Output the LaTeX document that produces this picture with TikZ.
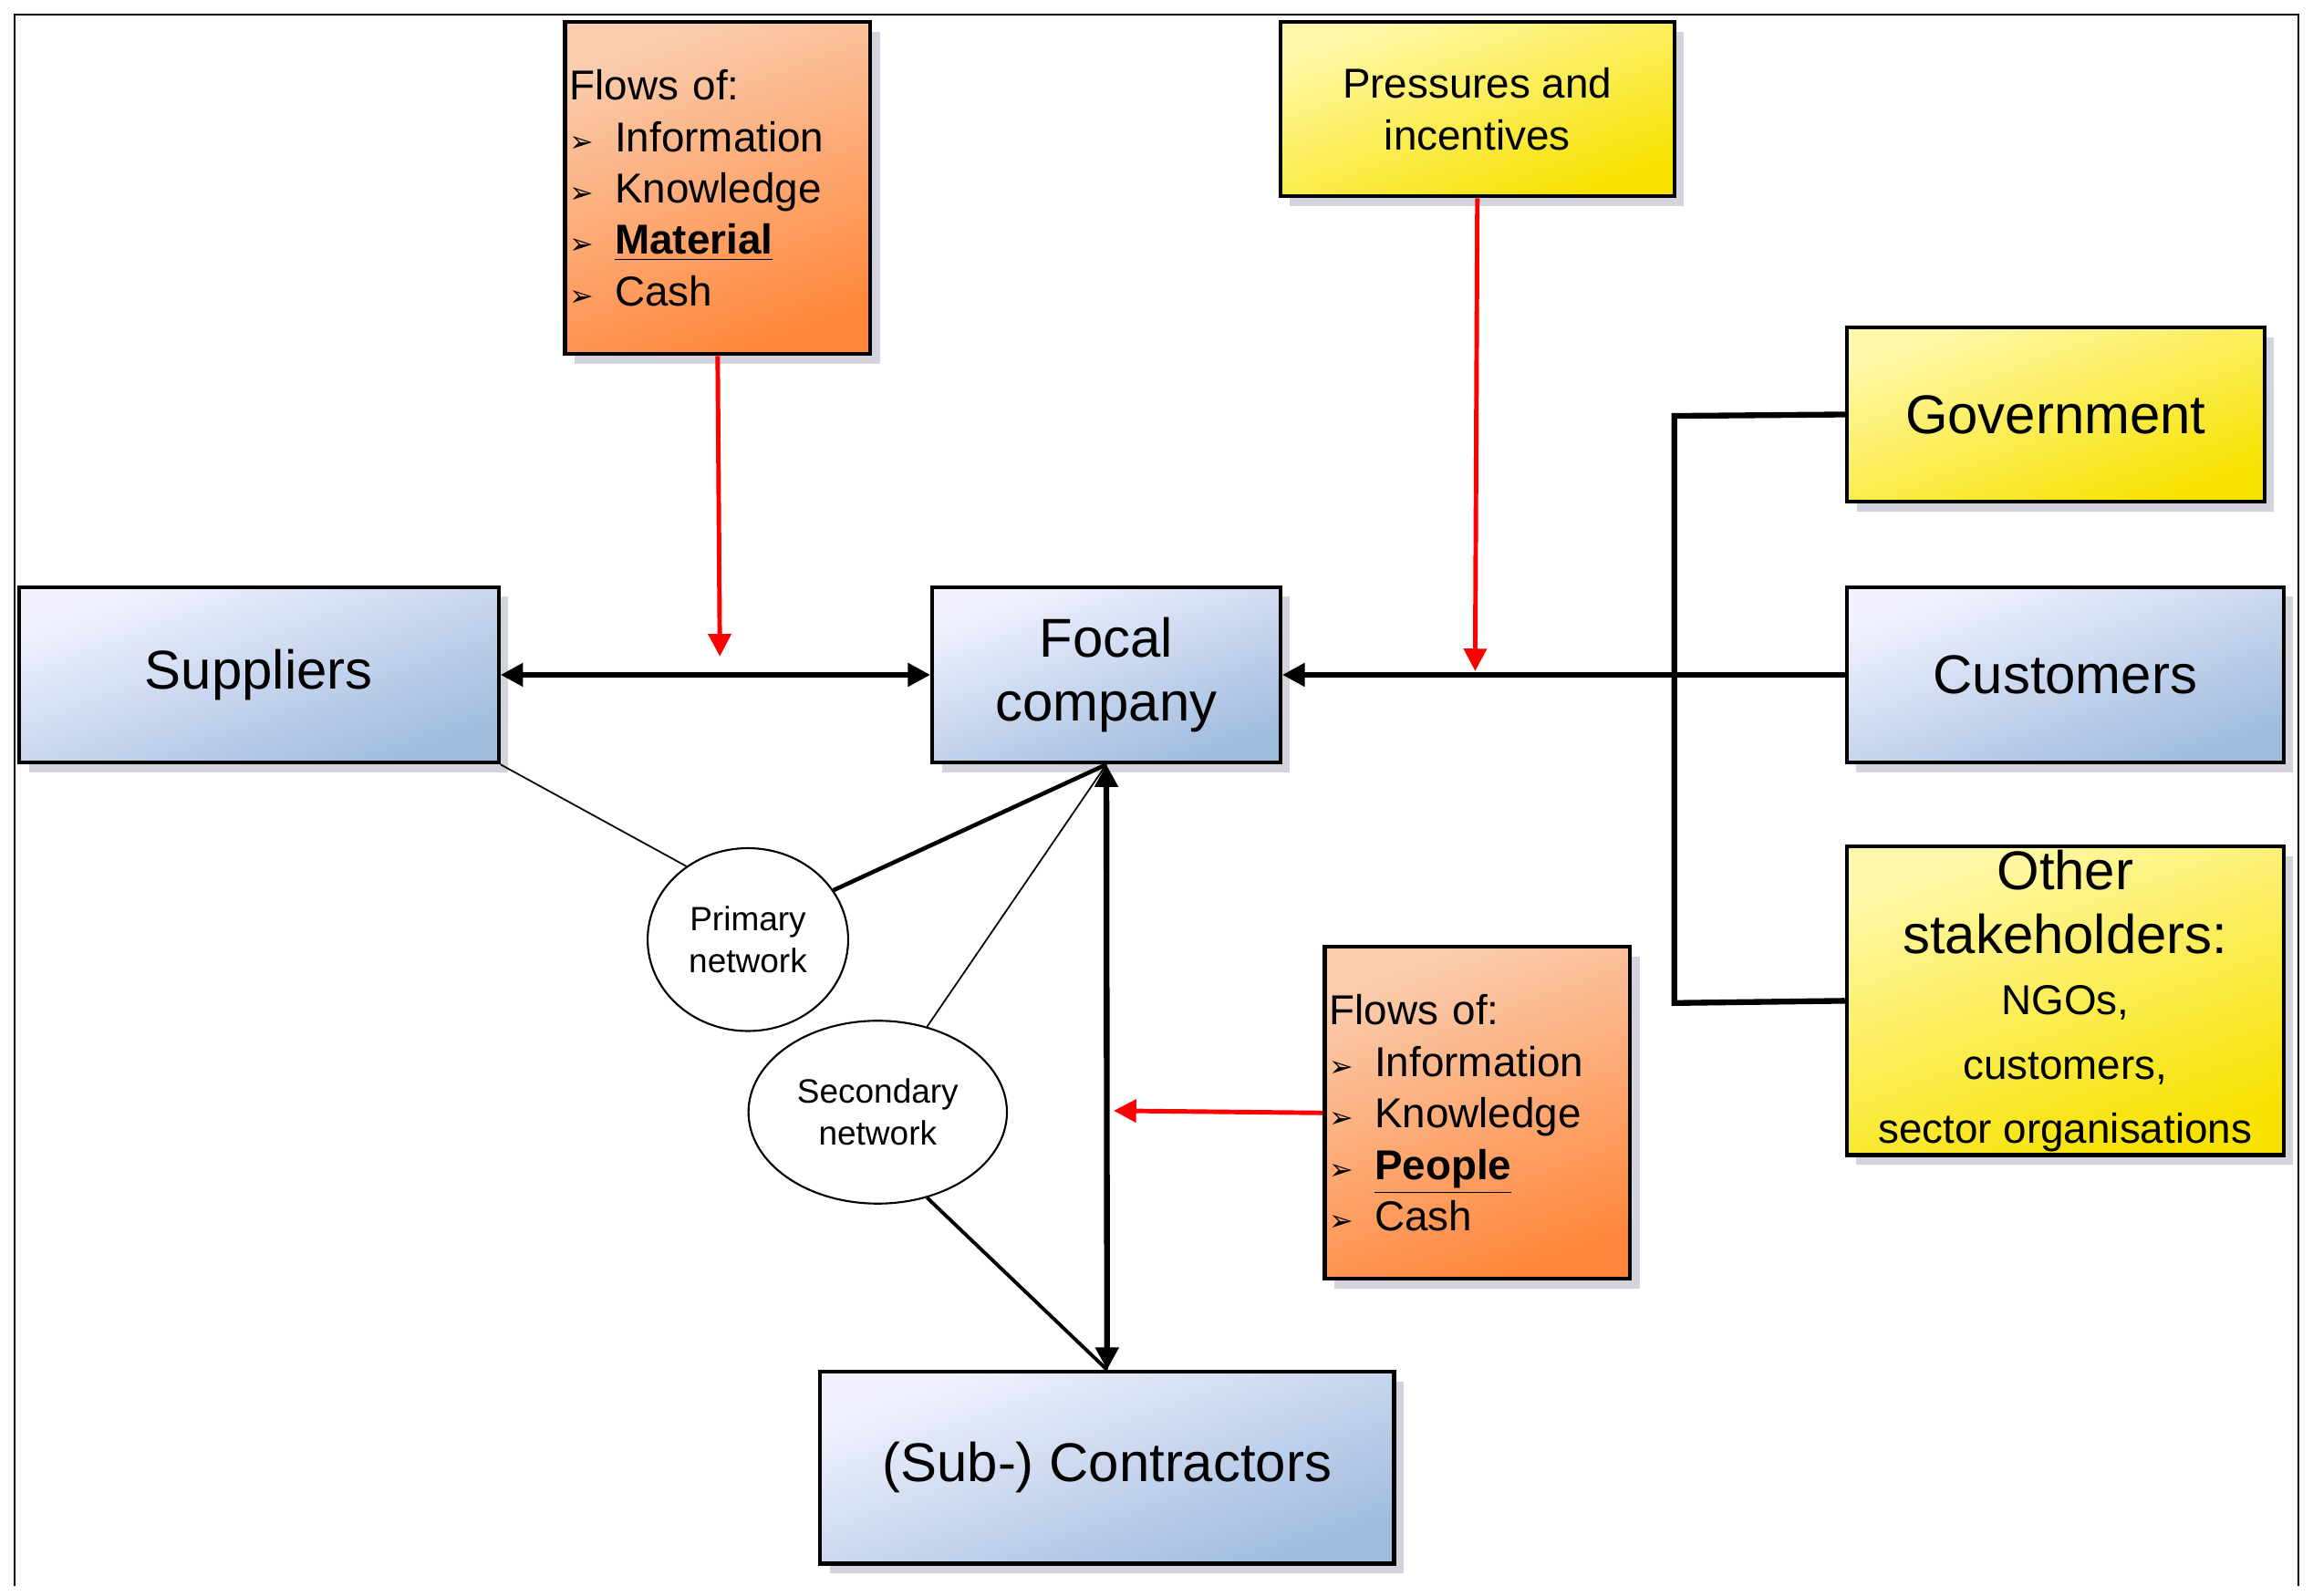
\documentclass[tikz,border=0pt]{standalone}
\usepackage{fontspec}
\setmainfont{Liberation Sans}
\newfontfamily\dv{DejaVu Sans}
\usetikzlibrary{arrows.meta,shadows,shapes.geometric}
\newcommand{\bul}{{\dv\small ➢}\hspace{0.5em}}
\begin{document}
\begin{tikzpicture}[x=0.459pt,y=-0.459pt,
  >={Triangle[length=7pt,width=7pt]},
  box/.style={draw=black,line width=1.2pt,drop shadow={shadow xshift=3pt,shadow yshift=-3pt,fill=blue!15!gray!30,opacity=1},inner sep=1pt,align=center},
  blue/.style={box,top color=blue!5,bottom color={rgb,255:red,160;green,188;blue,222},shading angle=20},
  orange/.style={box,top color={rgb,255:red,250;green,205;blue,175},bottom color={rgb,255:red,255;green,135;blue,60},shading angle=20},
  yellow/.style={box,top color={rgb,255:red,255;green,248;blue,170},bottom color={rgb,255:red,247;green,226;blue,0},shading angle=20},
  big/.style={font=\fontsize{17}{20}\selectfont},
  mid/.style={font=\fontsize{13}{16}\selectfont},
  bk/.style={line width=1.8pt},
  rd/.style={red,line width=1.4pt,->}]
\useasboundingbox (0,0) rectangle (1568,1082);
\draw[line width=0.6pt] (10,1075) -- (10,10) -- (1558,10) -- (1558,1075);
\node[orange,mid,minimum width=95pt,minimum height=103.3pt,text width=92pt,align=left] (f1) at (486.5,127.5)
 {Flows of:\\\bul Information\\\bul Knowledge\\\bul \textbf{\underline{Material}}\\\bul Cash};
\node[yellow,mid,minimum width=122.6pt,minimum height=54.2pt] (pr) at (1001.5,74) {Pressures and\\incentives};
\node[yellow,big,minimum width=129.9pt,minimum height=54.2pt] (gov) at (1393.5,281) {Government};
\node[blue,big,minimum width=149.2pt,minimum height=54.6pt] (sup) at (175.5,457.5) {Suppliers};
\node[blue,big,minimum width=108.3pt,minimum height=54.6pt] (foc) at (750,457.5) {Focal\\company};
\node[blue,big,minimum width=135.9pt,minimum height=54.6pt] (cus) at (1400,457.5) {Customers};
\node[yellow,big,minimum width=135.9pt,minimum height=95pt] (oth) at (1400,678.5)
 {Other\\stakeholders:\\[-1pt]\fontsize{13}{16}\selectfont NGOs,\\\fontsize{13}{16}\selectfont customers,\\\fontsize{13}{16}\selectfont sector organisations};
\node[orange,mid,minimum width=95pt,minimum height=103.3pt,text width=92pt,align=left] (f2) at (1001.5,754.5)
 {Flows of:\\\bul Information\\\bul Knowledge\\\bul \textbf{\underline{People}}\\\bul Cash};
\node[blue,big,minimum width=178.6pt,minimum height=59.7pt] (con) at (750.5,995) {(Sub-) Contractors};
\node[draw,ellipse,fill=white,line width=0.6pt,minimum width=62.4pt,minimum height=56.9pt,align=center,font=\fontsize{10.5}{13}\selectfont] (pn) at (507,637) {Primary\\network};
\node[draw,ellipse,fill=white,line width=0.6pt,minimum width=61.5pt,minimum height=56.9pt,align=center,font=\fontsize{10.5}{13}\selectfont] (sn) at (595,754) {Secondary\\network};
% connectors
\draw[bk,<->] (sup) -- (foc);
\draw[bk,<->] (foc.south) -- (con.north);
\draw[bk,->] (cus.west) -- (foc.east);
\draw[bk] (gov.west) -- (1135,282) -- (1135,680) -- (oth.west);
\coordinate (a1) at (488,445);
\coordinate (a2) at (1000,455);
\coordinate (a3) at (755,753);
\draw[rd] (f1.south) -- (a1);
\draw[rd] (pr.south) -- (a2);
\draw[rd] (f2.west) -- (a3);
\draw[line width=0.5pt] (sup.south east) -- (pn.130);
\draw[line width=1.3pt] (pn.30) -- (foc.south);
\draw[line width=0.5pt] (foc.south) -- (sn.60);
\draw[line width=1.1pt] (sn.-60) -- (con.north);
\end{tikzpicture}
\end{document}
